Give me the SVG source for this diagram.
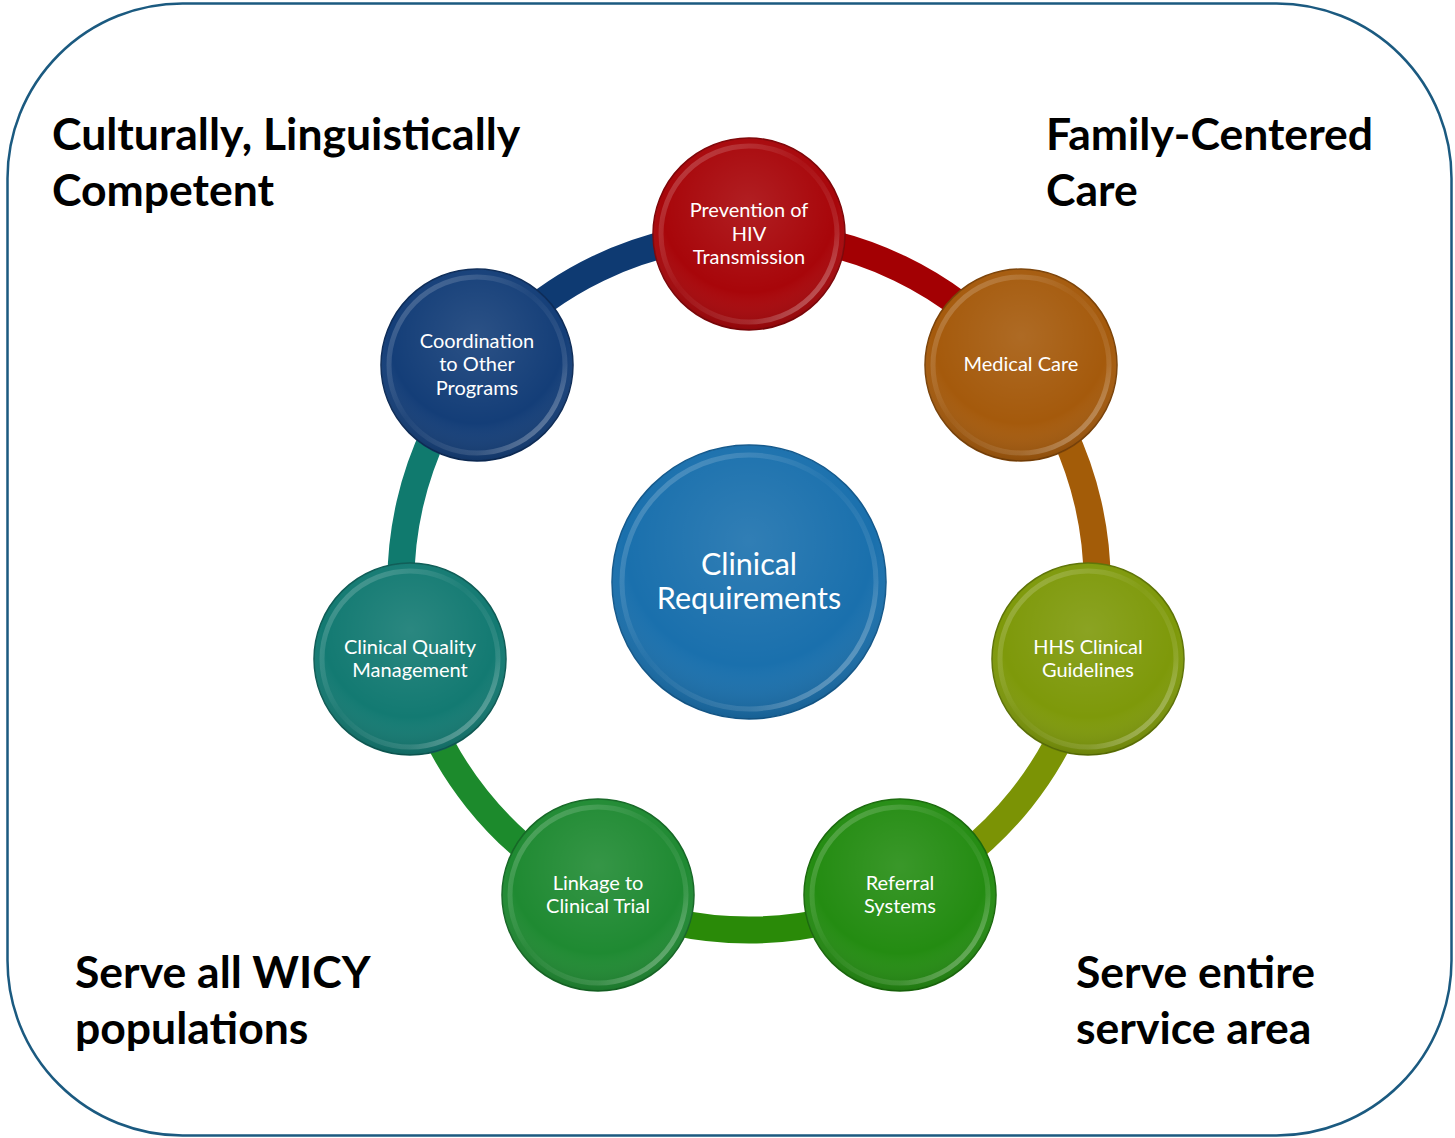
<svg xmlns="http://www.w3.org/2000/svg" width="1455" height="1138" viewBox="0 0 1455 1138">
<style>
.big{font-family:Lato,"Liberation Sans",sans-serif;font-weight:bold;font-size:44.5px;fill:#000}
.lbl{font-family:Lato,"Liberation Sans",sans-serif;font-size:20px;fill:#fff;text-anchor:middle}
.ctr{font-family:Lato,"Liberation Sans",sans-serif;font-size:30.5px;fill:#fff;text-anchor:middle}
.seg{fill:none;stroke-width:27}
.rim{fill:none;stroke-width:5}
.edge{stroke-width:1.5}
</style>
<defs>
<radialGradient id="shade" cx="0.5" cy="0.35" r="0.65">
<stop offset="0" stop-color="#fff" stop-opacity="0.1"/>
<stop offset="0.7" stop-color="#fff" stop-opacity="0"/>
<stop offset="1" stop-color="#000" stop-opacity="0.15"/>
</radialGradient>
<linearGradient id="rimg" x1="0" y1="0" x2="1" y2="1">
<stop offset="0" stop-color="#fff" stop-opacity="0.25"/>
<stop offset="0.45" stop-color="#fff" stop-opacity="0.03"/>
<stop offset="0.75" stop-color="#fff" stop-opacity="0.12"/>
<stop offset="1" stop-color="#fff" stop-opacity="0.45"/>
</linearGradient>
</defs>
<rect x="7.5" y="3.5" width="1444" height="1132" rx="175" ry="175" fill="#fff" stroke="#1b5a80" stroke-width="2.5"/>
<g id="connectors">
<path class="seg" stroke="#a30003" d="M749 234 A348 348 0 0 1 1021.08 365.03"/>
<path class="seg" stroke="#a35c08" d="M1021.08 365.03 A348 348 0 0 1 1088.27 659.44"/>
<path class="seg" stroke="#7b9305" d="M1088.27 659.44 A348 348 0 0 1 899.99 895.54"/>
<path class="seg" stroke="#2a8a08" d="M899.99 895.54 A348 348 0 0 1 598.01 895.54"/>
<path class="seg" stroke="#1c8a2c" d="M598.01 895.54 A348 348 0 0 1 409.73 659.44"/>
<path class="seg" stroke="#107a6e" d="M409.73 659.44 A348 348 0 0 1 476.92 365.03"/>
<path class="seg" stroke="#0e3a72" d="M476.92 365.03 A348 348 0 0 1 749 234"/>
</g>
<g id="center">
<circle class="edge" cx="749" cy="582" r="137" fill="#1a70ad" stroke="#14598c"/>
<circle cx="749" cy="582" r="137" fill="url(#shade)"/>
<circle class="rim" cx="749" cy="582" r="127" stroke="url(#rimg)"/>
<text class="ctr" x="749" y="575">Clinical</text>
<text class="ctr" x="749" y="609">Requirements</text>
</g>
<g id="prevention">
<circle class="edge" cx="749" cy="234" r="96" fill="#a8060a" stroke="#7e0508"/>
<circle cx="749" cy="234" r="96" fill="url(#shade)"/>
<circle class="rim" cx="749" cy="234" r="88" stroke="url(#rimg)"/>
<text class="lbl" x="749" y="217">Prevention of</text>
<text class="lbl" x="749" y="241">HIV</text>
<text class="lbl" x="749" y="264">Transmission</text>
</g>
<g id="medical">
<circle class="edge" cx="1021" cy="365" r="96" fill="#a55a0c" stroke="#7c4308"/>
<circle cx="1021" cy="365" r="96" fill="url(#shade)"/>
<circle class="rim" cx="1021" cy="365" r="88" stroke="url(#rimg)"/>
<text class="lbl" x="1021" y="371">Medical Care</text>
</g>
<g id="hhs">
<circle class="edge" cx="1088" cy="659" r="96" fill="#7e990a" stroke="#5e7406"/>
<circle cx="1088" cy="659" r="96" fill="url(#shade)"/>
<circle class="rim" cx="1088" cy="659" r="88" stroke="url(#rimg)"/>
<text class="lbl" x="1088" y="654">HHS Clinical</text>
<text class="lbl" x="1088" y="677">Guidelines</text>
</g>
<g id="referral">
<circle class="edge" cx="900" cy="895" r="96" fill="#248c12" stroke="#1a6a0c"/>
<circle cx="900" cy="895" r="96" fill="url(#shade)"/>
<circle class="rim" cx="900" cy="895" r="88" stroke="url(#rimg)"/>
<text class="lbl" x="900" y="890">Referral</text>
<text class="lbl" x="900" y="913">Systems</text>
</g>
<g id="linkage">
<circle class="edge" cx="598" cy="895" r="96" fill="#1f8a32" stroke="#166826"/>
<circle cx="598" cy="895" r="96" fill="url(#shade)"/>
<circle class="rim" cx="598" cy="895" r="88" stroke="url(#rimg)"/>
<text class="lbl" x="598" y="890">Linkage to</text>
<text class="lbl" x="598" y="913">Clinical Trial</text>
</g>
<g id="quality">
<circle class="edge" cx="410" cy="659" r="96" fill="#137a72" stroke="#0e5c56"/>
<circle cx="410" cy="659" r="96" fill="url(#shade)"/>
<circle class="rim" cx="410" cy="659" r="88" stroke="url(#rimg)"/>
<text class="lbl" x="410" y="654">Clinical Quality</text>
<text class="lbl" x="410" y="677">Management</text>
</g>
<g id="coordination">
<circle class="edge" cx="477" cy="365" r="96" fill="#143e78" stroke="#0d2c58"/>
<circle cx="477" cy="365" r="96" fill="url(#shade)"/>
<circle class="rim" cx="477" cy="365" r="88" stroke="url(#rimg)"/>
<text class="lbl" x="477" y="348">Coordination</text>
<text class="lbl" x="477" y="371">to Other</text>
<text class="lbl" x="477" y="395">Programs</text>
</g>
<g id="labels">
<text class="big" x="52" y="150">Culturally, Linguistically</text>
<text class="big" x="52" y="206">Competent</text>
<text class="big" x="1046" y="150">Family-Centered</text>
<text class="big" x="1046" y="206">Care</text>
<text class="big" x="75" y="988">Serve all WICY</text>
<text class="big" x="75" y="1044">populations</text>
<text class="big" x="1076" y="988">Serve entire</text>
<text class="big" x="1076" y="1044">service area</text>
</g>
</svg>
